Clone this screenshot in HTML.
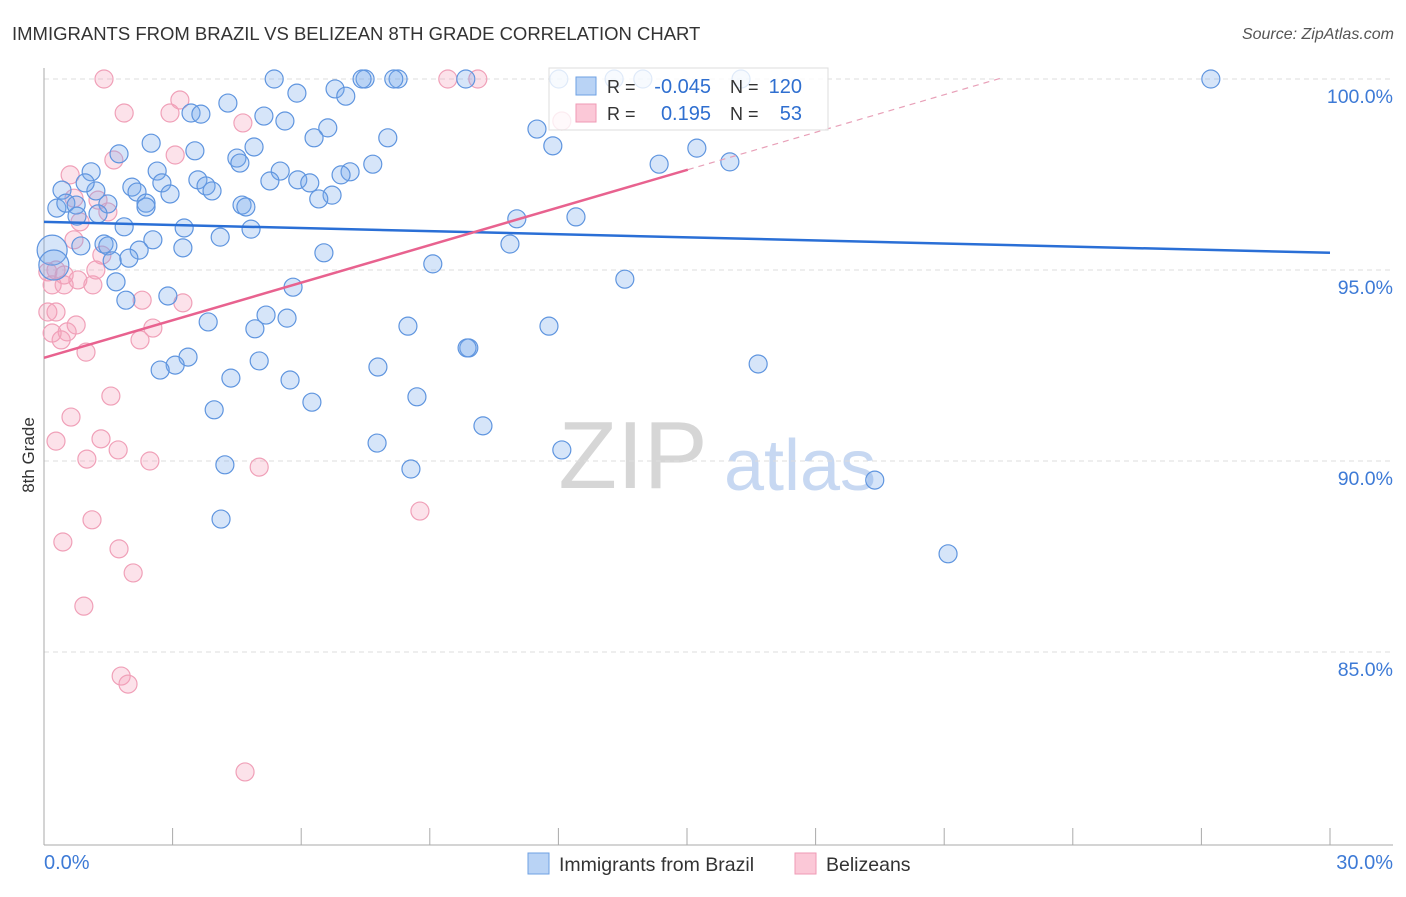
<!DOCTYPE html>
<html><head><meta charset="utf-8"><style>
body{margin:0;background:#fff;font-family:"Liberation Sans",sans-serif;}
svg text{font-family:"Liberation Sans",sans-serif;}
</style></head><body>
<svg id="chart" width="1406" height="892">
<text x="12" y="40" font-size="18.5" fill="#333">IMMIGRANTS FROM BRAZIL VS BELIZEAN 8TH GRADE CORRELATION CHART</text>
<text x="1394" y="39" font-size="16" fill="#555" text-anchor="end" font-style="italic">Source: ZipAtlas.com</text>
<g>
<text x="633" y="488" font-size="96" font-family="Liberation Serif" fill="#d6d6d6" text-anchor="middle">ZIP</text>
<text x="800" y="490" font-size="72" fill="#c7d8f2" text-anchor="middle">atlas</text>
</g>
<g id="grid"></g>
<g id="axes"></g>
<g id="pts"></g>
<g id="trends"></g>
<text transform="translate(34,455) rotate(-90)" font-size="17" fill="#333" text-anchor="middle">8th Grade</text>
<g>
<rect x="549" y="68" width="279" height="62" fill="#fff" fill-opacity="0.8" stroke="#ddd"/>
<rect x="576" y="77" width="20" height="18" fill="#b9d3f5" stroke="#6ea0e3"/>
<rect x="576" y="104" width="20" height="18" fill="#fbc8d7" stroke="#ef9ab4"/>
<text x="607" y="93" font-size="18" fill="#333">R =</text>
<text x="711" y="93" font-size="20" fill="#2f6fd0" text-anchor="end">-0.045</text>
<text x="730" y="93" font-size="18" fill="#333">N =</text>
<text x="802" y="93" font-size="20" fill="#2f6fd0" text-anchor="end">120</text>
<text x="607" y="120" font-size="18" fill="#333">R =</text>
<text x="711" y="120" font-size="20" fill="#2f6fd0" text-anchor="end">0.195</text>
<text x="730" y="120" font-size="18" fill="#333">N =</text>
<text x="802" y="120" font-size="20" fill="#2f6fd0" text-anchor="end">53</text>
</g>
<g>
<rect x="528" y="853" width="21" height="21" fill="#b9d3f5" stroke="#6ea0e3"/>
<text x="559" y="871" font-size="19.5" fill="#333">Immigrants from Brazil</text>
<rect x="795" y="853" width="21" height="21" fill="#fbc8d7" stroke="#ef9ab4"/>
<text x="826" y="871" font-size="19.5" fill="#333">Belizeans</text>
</g>
</svg>
<script>
const yTicks=[100,95,90,85];
const yTickLabels=["100.0%","95.0%","90.0%","85.0%"];
const xTickCount=[0,3,6,9,12,15,18,21,24,27,30];
const xEndLabels=["0.0%","30.0%"];
const brazilX=[5.37,7.49,7.42,8.26,8.16,9.84,12.01,13.30,13.97,16.26,27.22,6.79,5.90,7.04,4.29,3.43,3.66,5.13,5.62,6.62,8.02,6.30,2.50,11.87,11.50,15.23,16.00,14.35,1.75,3.52,4.90,4.50,4.57,7.67,7.14,6.93,5.51,2.64,1.10,0.42,2.05,2.75,3.59,3.78,3.92,5.27,5.92,6.20,6.72,6.41,2.94,2.17,2.38,1.21,0.96,0.30,0.51,0.75,1.49,2.38,4.62,4.71,1.26,0.77,11.03,12.41,1.87,3.27,4.83,4.11,2.54,0.86,1.40,1.49,3.24,2.22,10.87,6.53,0.19,0.23,1.59,1.98,1.68,13.55,9.07,5.81,1.91,2.89,3.83,5.18,5.67,4.92,8.49,11.78,9.91,9.87,3.36,3.06,2.71,5.02,7.79,16.66,4.36,5.74,8.70,3.97,6.25,10.24,7.77,12.08,8.56,4.22,19.38,4.13,21.09];
const brazilY=[100,100,100,100,100,100,100,100,100,100,100,99.74,99.63,99.55,99.37,99.11,99.08,99.03,98.90,98.72,98.46,98.46,98.32,98.25,98.69,98.19,97.83,97.77,98.04,98.12,98.22,97.93,97.80,97.77,97.57,97.49,97.59,97.59,97.57,97.09,97.17,97.28,97.36,97.20,97.07,97.33,97.36,97.28,96.96,96.86,96.99,97.04,96.75,97.07,97.28,96.62,96.75,96.70,96.73,96.65,96.70,96.65,96.47,96.41,96.34,96.39,96.13,96.10,96.07,95.86,95.79,95.63,95.68,95.63,95.58,95.52,95.68,95.45,95.52,95.13,95.24,95.31,94.69,94.76,95.16,94.55,94.21,94.32,93.64,93.82,93.74,93.46,93.53,93.53,92.96,92.96,92.72,92.51,92.38,92.62,92.46,92.54,92.17,92.12,91.68,91.34,91.54,90.92,90.47,90.29,89.79,89.90,89.50,88.48,87.57];
const belizeX=[1.40,9.42,10.12,1.87,2.94,3.17,4.64,3.06,1.63,12.08,0.61,0.70,1.26,1.49,0.84,0.70,1.35,0.28,0.09,0.19,1.14,0.47,0.79,1.21,2.29,3.24,0.09,0.28,0.75,0.54,2.54,2.24,0.98,0.40,0.19,1.56,0.63,0.28,1.33,1.00,1.73,2.47,5.02,8.77,1.12,0.44,1.75,2.08,0.93,1.80,1.96,4.69,0.47];
const belizeY=[100,100,100,99.11,99.11,99.45,98.85,98.01,97.88,98.90,97.49,96.88,96.83,96.52,96.26,95.79,95.39,95.00,94.95,94.61,94.61,94.61,94.74,95.00,94.21,94.14,93.90,93.90,93.56,93.38,93.48,93.17,92.85,93.17,93.35,91.70,91.15,90.52,90.58,90.05,90.29,90.00,89.84,88.69,88.46,87.88,87.70,87.07,86.20,84.37,84.16,81.86,94.87];
const brazilTrend=[96.26,95.45];
const belizeTrend=[92.70,0.328];

const NS="http://www.w3.org/2000/svg";
const X0=44,X1=1330,Y100=79,PXPER=38.2;
function sx(v){return X0+v*(X1-X0)/30;}
function sy(v){return Y100+(100-v)*PXPER;}
function mk(tag,attrs,parent){const e=document.createElementNS(NS,tag);for(const k in attrs)e.setAttribute(k,attrs[k]);parent.appendChild(e);return e;}
const grid=document.getElementById('grid'),axes=document.getElementById('axes'),pts=document.getElementById('pts'),tr=document.getElementById('trends');
yTicks.forEach((t,i)=>{
  const l=mk('line',{x1:X0,x2:1393,y1:sy(t),y2:sy(t),stroke:'#ddd','stroke-dasharray':'5,4'},grid);
  
  
  const tx=mk('text',{x:1393,y:sy(t)+24,'font-size':19.5,fill:'#3d7ad6','text-anchor':'end'},grid);
  tx.textContent=yTickLabels[i];
  
  
});
let a=mk('line',{x1:X0,x2:X0,y1:68,y2:845,stroke:'#aaa'},axes);


a=mk('line',{x1:X0,x2:1393,y1:845,y2:845,stroke:'#aaa'},axes);


xTickCount.forEach(t=>{
  const l=mk('line',{x1:sx(t),x2:sx(t),y1:828,y2:845,stroke:'#aaa'},axes);
  
  
});
let tl=mk('text',{x:X0,y:869,'font-size':20,fill:'#3d7ad6'},axes);
tl.textContent=xEndLabels[0];


tl=mk('text',{x:1393,y:869,'font-size':20,fill:'#3d7ad6','text-anchor':'end'},axes);
tl.textContent=xEndLabels[1];


belizeX.forEach((v,i)=>{
  const c=mk('circle',{cx:sx(v),cy:sy(belizeY[i]),r:9,fill:'rgba(246,160,186,0.3)',stroke:'#f0a0b8','stroke-width':1.2},pts);
  
  
});
brazilX.forEach((v,i)=>{
  const big=(v<0.3&&brazilY[i]<95.6&&brazilY[i]>95);
  const c=mk('circle',{cx:sx(v),cy:sy(brazilY[i]),r:big?15:9,fill:'rgba(120,170,235,0.3)',stroke:'#5f95df','stroke-width':1.2},pts);
  
  
});
let t=mk('line',{x1:sx(0),y1:sy(brazilTrend[0]),x2:sx(30),y2:sy(brazilTrend[1]),stroke:'#2a6fd6','stroke-width':2.5},tr);


const bx1=15.02,bx2=22.3;
t=mk('line',{x1:sx(0),y1:sy(belizeTrend[0]),x2:sx(bx1),y2:sy(belizeTrend[0]+belizeTrend[1]*bx1),stroke:'#e8628f','stroke-width':2.5},tr);


t=mk('line',{x1:sx(bx1),y1:sy(belizeTrend[0]+belizeTrend[1]*bx1),x2:sx(bx2),y2:sy(belizeTrend[0]+belizeTrend[1]*bx2),stroke:'#e8a0b8','stroke-width':1.2,'stroke-dasharray':'6,5'},tr);


</script>
</body></html>
